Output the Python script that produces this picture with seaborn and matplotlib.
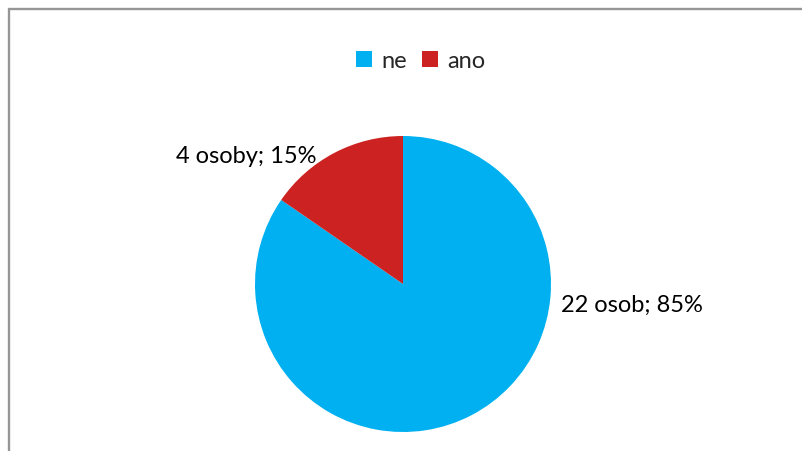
import matplotlib
matplotlib.use("Agg")
import matplotlib.pyplot as plt
from matplotlib.lines import Line2D
import seaborn as sns

categories = ["ne", "ano"]
counts = [22, 4]
count_labels = ["22 osob", "4 osoby"]
colors = ["#00B0F0", "#CC2222"]

sns.set_theme(style="white")
plt.rcParams["font.family"] = ["Lato", "DejaVu Sans"]

W, H = 803, 452
fig = plt.figure(figsize=(W / 100, H / 100), dpi=100)
fig.patch.set_facecolor("white")

cx, cy, r = 403, 285, 148
ax = fig.add_axes([(cx - r) / W, (H - cy - r) / H, 2 * r / W, 2 * r / H])
total = sum(counts)
wedges, _ = ax.pie(counts, colors=colors, startangle=90, counterclock=False,
                   radius=1, wedgeprops=dict(linewidth=0))
ax.set_xlim(-1, 1)
ax.set_ylim(-1, 1)
ax.set_aspect("equal")
ax.axis("off")

fs = 17
texts = [f"{c}; {round(100 * v / total)}%" for c, v in zip(count_labels, counts)]
ax.text(1.065, -0.14, texts[0], ha="left", va="center", fontsize=fs, color="#000000")
ax.text(-0.585, 0.865, texts[1], ha="right", va="center", fontsize=fs, color="#000000")

fig.legend(wedges, categories, loc="center", bbox_to_anchor=(0.524, 1 - 62 / H),
           ncol=2, frameon=False, fontsize=fs, handlelength=0.68, handleheight=0.68,
           handletextpad=0.4, columnspacing=0.6)

# chart frame
lc = "#969696"
fig.add_artist(Line2D([9 / W, 9 / W], [0, 1 - 10 / H], color=lc, lw=1.7, transform=fig.transFigure))
fig.add_artist(Line2D([9 / W, 1], [1 - 10 / H, 1 - 10 / H], color=lc, lw=1.7, transform=fig.transFigure))

fig.savefig("out.png", dpi=100)
